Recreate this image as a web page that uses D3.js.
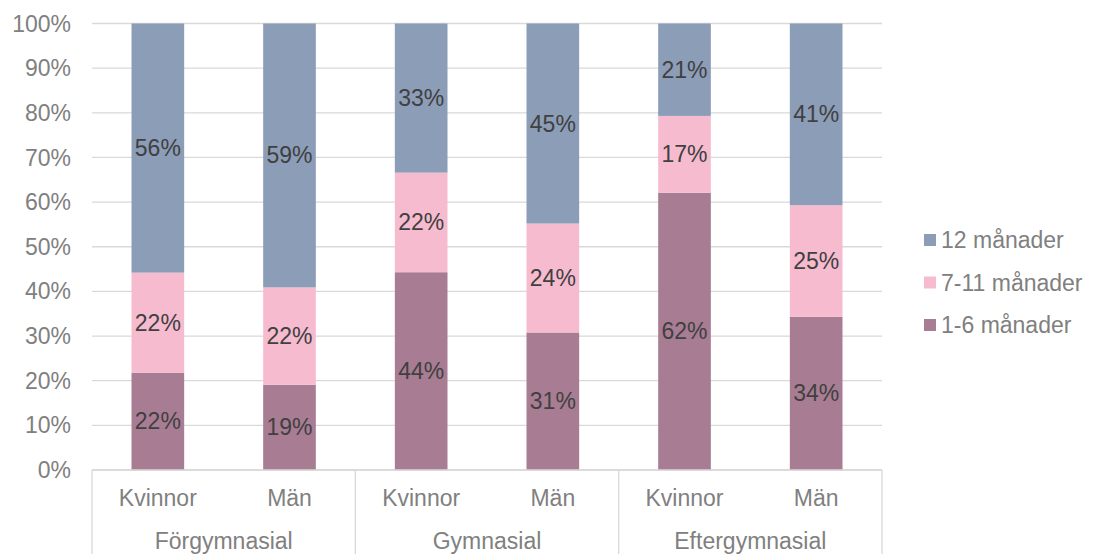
<!DOCTYPE html>
<html><head><meta charset="utf-8">
<script src="https://cdn.jsdelivr.net/npm/d3@7"></script>
<style>body{margin:0;background:#fff}svg{font-family:"Liberation Sans",Arial,sans-serif}</style>
</head><body><svg id="c" width="1093" height="554"></svg>
<script>
const groups = ["Förgymnasial","Gymnasial","Eftergymnasial"];
const genders = ["Kvinnor","Män"];
const seriesNames = ["1-6 månader","7-11 månader","12 månader"];
const s1_6 = [21.8, 19.1, 44.3, 30.8, 62.1, 34.3];
const s7_11 = [22.4, 21.8, 22.3, 24.4, 17.2, 25.0];
const s12 = [55.8, 59.1, 33.4, 44.8, 20.7, 40.7];
const yTicks = [0,10,20,30,40,50,60,70,80,90,100];
const colors = ["#a87d94","#f7bbd0","#8c9db8"];
const FS = 23;

const svg = d3.select("#c");
const L=92, R=882, T=23.5, B=470;
const cats = [];
groups.forEach(g=>genders.forEach(s=>cats.push(g+"|"+s)));
const x = d3.scaleBand().domain(cats).range([L,R]).paddingInner(0.6).paddingOuter(0.3);
const y = d3.scaleLinear().domain([0,100]).range([B,T]);

svg.append("g").selectAll("line").data(yTicks).join("line")
  .attr("x1",L).attr("x2",R).attr("y1",d=>y(d)).attr("y2",d=>y(d))
  .attr("stroke","#d9d9d9").attr("stroke-width",1.3);
svg.append("g").selectAll("text").data(yTicks).join("text")
  .attr("x",71).attr("y",d=>y(d)).attr("dy","0.35em").attr("text-anchor","end")
  .attr("fill","#808080").attr("font-size",FS).text(d=>d+"%");

const table = cats.map((c,i)=>({cat:c, a:s1_6[i], b:s7_11[i], c12:s12[i]}));
const stack = d3.stack().keys(["a","b","c12"])(table);
const g = svg.append("g");
stack.forEach((layer,k)=>{
  g.selectAll(null).data(layer).join("rect")
    .attr("x",d=>x(d.data.cat)).attr("width",x.bandwidth())
    .attr("y",d=>y(d[1])).attr("height",d=>y(d[0])-y(d[1]))
    .attr("fill",colors[k]);
  g.selectAll(null).data(layer).join("text")
    .attr("x",d=>x(d.data.cat)+x.bandwidth()/2)
    .attr("y",d=>(y(d[0])+y(d[1]))/2).attr("dy","0.35em")
    .attr("text-anchor","middle").attr("fill","#404040").attr("font-size",FS)
    .text(d=>Math.round(d[1]-d[0])+"%");
});

svg.append("line").attr("x1",L).attr("x2",R).attr("y1",B).attr("y2",B).attr("stroke","#d9d9d9").attr("stroke-width",1.3);
for(let i=0;i<=groups.length;i++){
  const xx = L + i*(R-L)/groups.length;
  svg.append("line").attr("x1",xx).attr("x2",xx).attr("y1",B).attr("y2",554).attr("stroke","#d9d9d9").attr("stroke-width",1.3);
}
svg.append("g").selectAll("text").data(cats).join("text")
  .attr("x",d=>x(d)+x.bandwidth()/2).attr("y",498).attr("dy","0.35em")
  .attr("text-anchor","middle").attr("fill","#808080").attr("font-size",FS)
  .text(d=>d.split("|")[1]);
svg.append("g").selectAll("text").data(groups).join("text")
  .attr("x",(d,i)=>L+(i+0.5)*(R-L)/groups.length).attr("y",541).attr("dy","0.35em")
  .attr("text-anchor","middle").attr("fill","#808080").attr("font-size",FS)
  .text(d=>d);

const leg = [2,1,0];
leg.forEach((k,i)=>{
  const yy = 240 + i*42.5;
  svg.append("rect").attr("x",924).attr("y",yy-6).attr("width",12).attr("height",12).attr("fill",colors[k]);
  svg.append("text").attr("x",941).attr("y",yy).attr("dy","0.35em").attr("fill","#808080").attr("font-size",FS).text(seriesNames[k]);
});
</script></body></html>
